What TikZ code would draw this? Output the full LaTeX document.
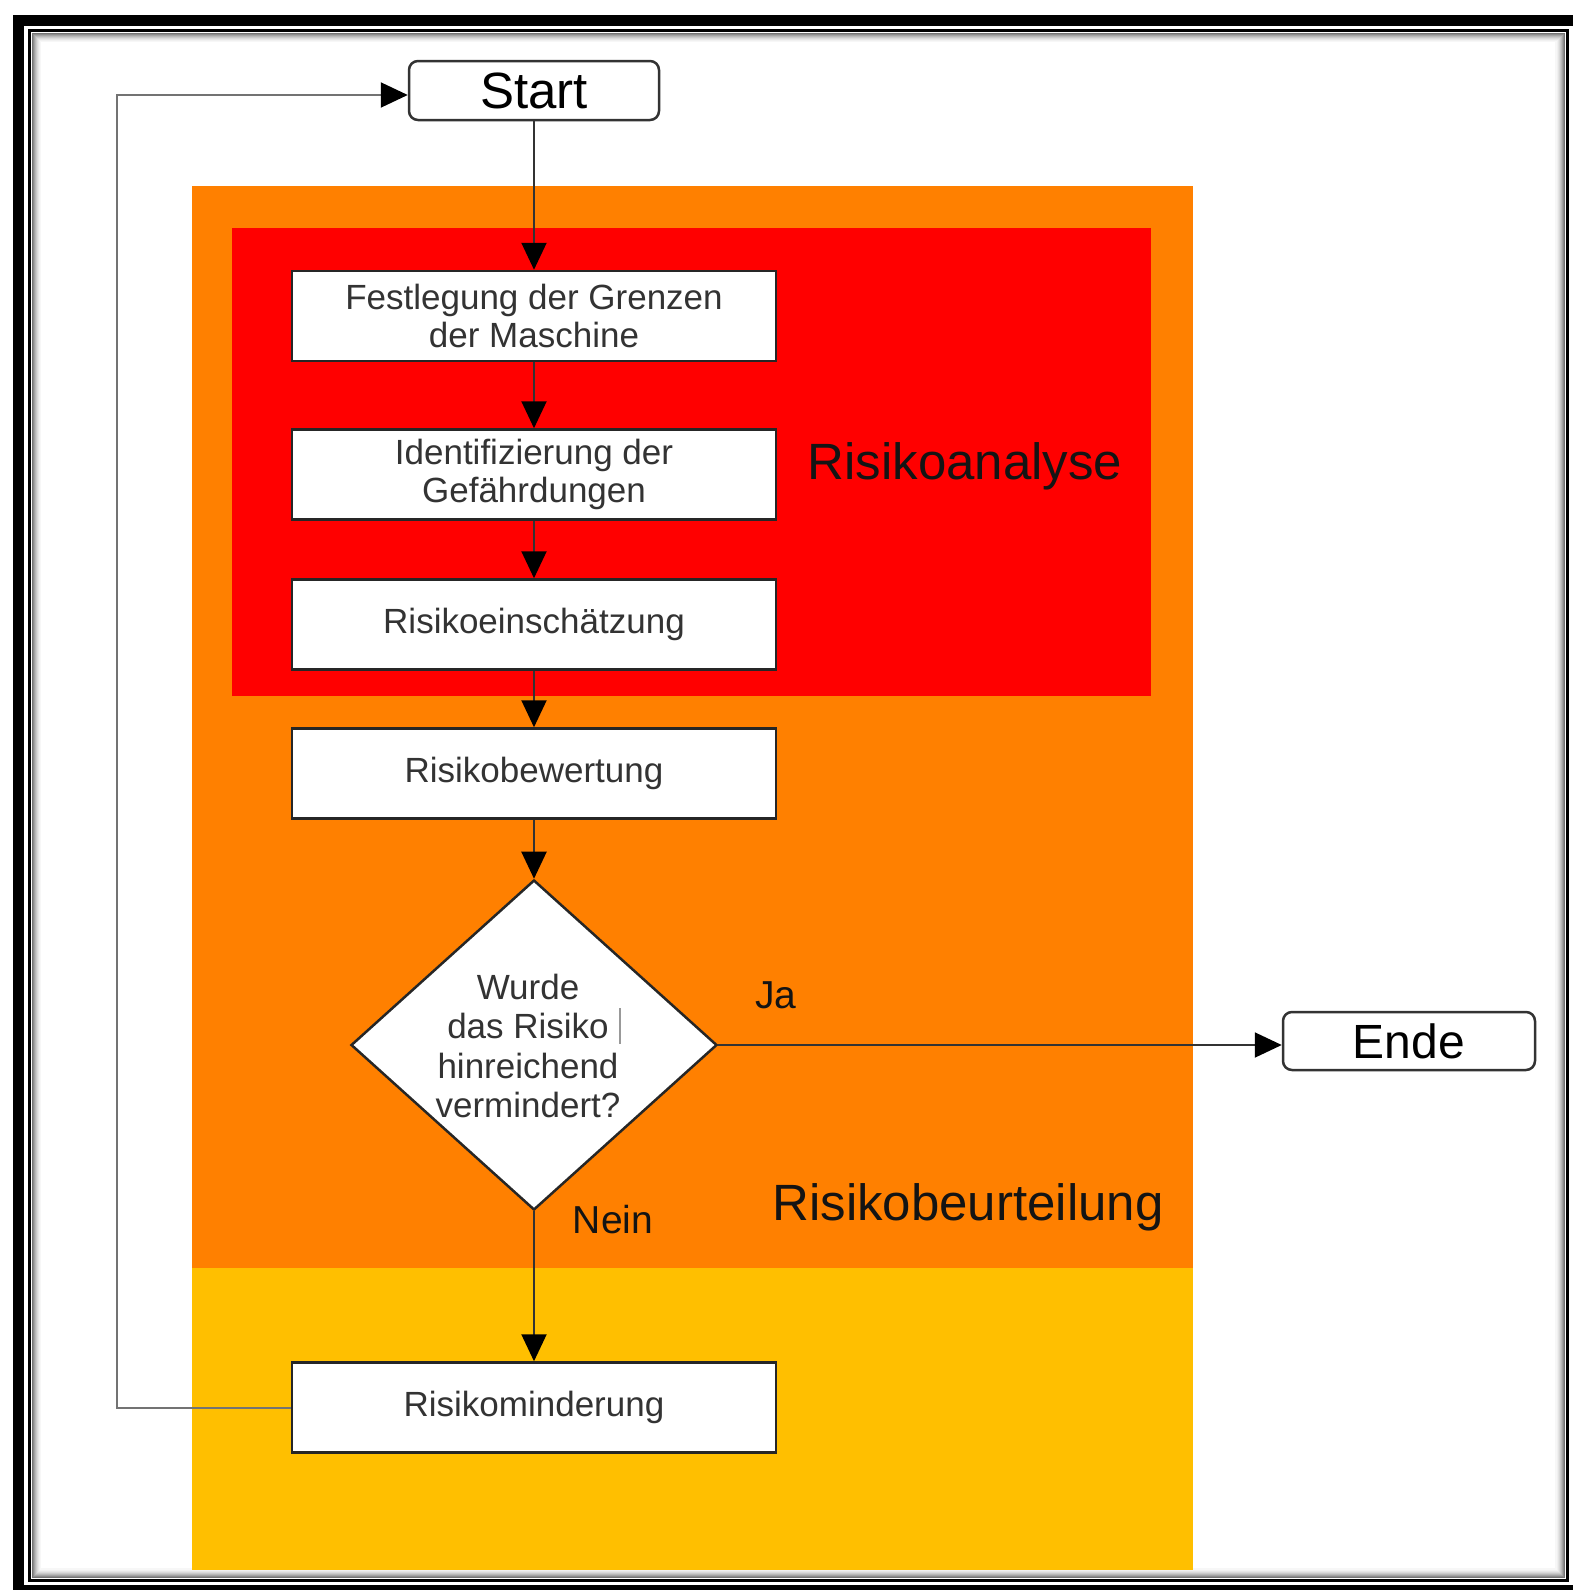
\documentclass[tikz,border=0pt]{standalone}
\usepackage{fontspec}
\setmainfont{Liberation Sans}
\usetikzlibrary{shapes.geometric,arrows.meta}
\definecolor{orng}{HTML}{FF8000}
\definecolor{yell}{HTML}{FFBF00}
\definecolor{rred}{HTML}{FF0000}
\definecolor{txt}{HTML}{333333}
\begin{document}
\begin{tikzpicture}[x=1pt,y=-1pt,
  box/.style={draw=black!85, line width=2.5pt, fill=white, minimum width=484pt, minimum height=90pt, inner sep=0pt, align=center, text=txt, font=\fontsize{35}{38.5}\selectfont},
  term/.style={draw=black!80, line width=2.5pt, fill=white, rounded corners=9pt, minimum width=250pt, minimum height=59pt, inner sep=0pt, font=\fontsize{51}{55}\selectfont},
  conn/.style={line width=2pt, draw=black!80, -{Triangle[length=27pt,width=25pt,color=black,fill=black]}},
  retconn/.style={conn, draw=black!55},
  biglabel/.style={font=\fontsize{51}{55}\selectfont, text=black!92, inner sep=0pt},
  smalllabel/.style={font=\fontsize{39}{42}\selectfont, text=black!92, inner sep=0pt}
]
\useasboundingbox (0,0) rectangle (1573,1590);
\fill[white] (0,0) rectangle (1573,1590);
% frames
\draw[line width=11pt] (18.5,20.5) rectangle (1590,1590.5);
\draw[line width=3pt] (29.5,30.5) rectangle (1567,1580);
\foreach \i/\c in {3/55,4/45,5/36,6/28,7/21,8/15,9/10,10/6,11/3}{
  \draw[line width=1.1pt, black!\c] (29.5+\i,30.5+\i) rectangle (1567-\i,1580-\i);
}
% regions
\fill[orng] (192,186) rectangle (1193,1268);
\fill[yell] (192,1268) rectangle (1193,1570);
\fill[rred] (232,228) rectangle (1151,696);
% nodes
\node[term] (start) at (534,90.5) {Start};
\node[box] (b1) at (534,316) {Festlegung der Grenzen\\der Maschine};
\node[box] (b2) at (534,474.5) {Identifizierung der\\Gefährdungen};
\node[box] (b3) at (534,624.5) {Risikoeinschätzung};
\node[box] (b4) at (534,773.5) {Risikobewertung};
\node[draw=black!85, line width=2.5pt, fill=white, diamond, minimum width=366pt, minimum height=330pt, inner sep=0pt] (dec) at (534,1045) {};
\node[text=txt, align=center, inner sep=0pt, font=\fontsize{35}{39.5}\selectfont] (dtext) at (528,1046) {Wurde\\das Risiko\\hinreichend\\vermindert?};
\draw[black!40, line width=1.5pt] (620,1008) -- (620,1044);
\node[box] (b5) at (534,1407.5) {Risikominderung};
\node[term, minimum width=252pt, minimum height=58pt, font=\fontsize{48}{52}\selectfont] (ende) at (1409,1041) {Ende};
\node[biglabel] (ra) at (965,466) {Risikoanalyse};
\node[biglabel] (rb) at (968,1207) {Risikobeurteilung};
\node[smalllabel] (ja) at (776,995) {Ja};
\node[smalllabel] (nein) at (613,1220) {Nein};
\coordinate (retx) at (117,0);
% connectors
\draw[conn] (start) -- (b1);
\draw[conn] (b1) -- (b2);
\draw[conn] (b2) -- (b3);
\draw[conn] (b3) -- (b4);
\draw[conn] (b4) -- (dec);
\draw[conn] (dec) -- (b5);
\draw[conn] (dec.east) -- (dec.east -| ende.west);
\draw[retconn] (b5.west) -- (b5.west -| retx) |- ([yshift=-4.5pt]start.west);
\end{tikzpicture}
\end{document}
